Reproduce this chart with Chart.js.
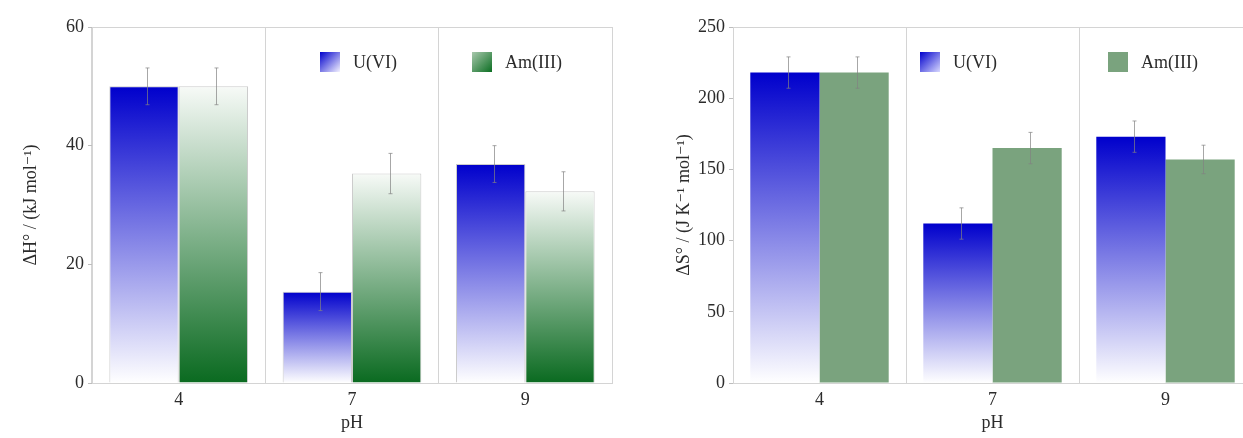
<!DOCTYPE html>
<html>
<head>
<meta charset="utf-8">
<script src="https://cdn.jsdelivr.net/npm/chart.js@4.4.1/dist/chart.umd.min.js"></script>
<style>
html, body { margin: 0; padding: 0; background: #fff; overflow: hidden; }
#wrap { position: relative; width: 1243px; height: 438px; overflow: hidden; }
.caja { position: absolute; top: 0; height: 438px; }
</style>
</head>
<body>
<div id="wrap">
  <div class="caja" style="left:0;width:620px"><canvas id="graficoEntalpia"></canvas></div>
  <div class="caja" style="left:620px;width:640px"><canvas id="graficoEntropia"></canvas></div>
</div>
<script>
// datos
const categorias = ['4', '7', '9'];
const entalpiaU = [50, 15.4, 36.9];
const entalpiaUErr = [3.1, 3.2, 3.1];
const entalpiaAm = [50, 35.3, 32.3];
const entalpiaAmErr = [3.1, 3.4, 3.3];
const entropiaU = [218, 112, 173];
const entropiaUErr = [11, 11, 11];
const entropiaAm = [218, 165, 157];
const entropiaAmErr = [11, 11, 10];
const ticksEntalpia = [0, 20, 40, 60];
const ticksEntropia = [0, 50, 100, 150, 200, 250];

Chart.defaults.font.family = "'Liberation Serif', 'DejaVu Serif', serif";
Chart.defaults.font.size = 18;
Chart.defaults.color = '#2b2b2b';

function gradiente(ctx, arriba, abajo){
    const chart = ctx.chart;
    const y = chart.scales.y;
    if(!y || ctx.raw == null) return arriba;
    const top = y.getPixelForValue(ctx.raw);
    const base = y.getPixelForValue(0);
    if(!isFinite(top) || !isFinite(base) || top === base) return arriba;
    const g = chart.ctx.createLinearGradient(0, top, 0, base);
    g.addColorStop(0, arriba);
    g.addColorStop(1, abajo);
    return g;
}

// marco gris alrededor del area
const pluginMarco = {
    id: 'marco',
    beforeDatasetsDraw(chart){
        const a = chart.chartArea, c = chart.ctx;
        c.save();
        c.strokeStyle = '#d4d4d4';
        c.lineWidth = 1;
        c.strokeRect(a.left + 0.5, a.top + 0.5, a.right - a.left, a.bottom - a.top);
        c.restore();
    }
};

// barras de error
const pluginErrores = {
    id: 'errores',
    afterDatasetsDraw(chart, args, opts){
        const c = chart.ctx, y = chart.scales.y;
        chart.data.datasets.forEach((ds, i) => {
            const meta = chart.getDatasetMeta(i);
            meta.data.forEach((bar, j) => {
                const v = ds.data[j], e = ds.errores[j];
                const x = Math.round(bar.x + 3) + 0.5;
                const y1 = y.getPixelForValue(v + e), y2 = y.getPixelForValue(v - e);
                c.save();
                c.strokeStyle = 'rgba(130,130,130,0.7)';
                c.lineWidth = 1;
                c.beginPath();
                c.moveTo(x, y1); c.lineTo(x, y2);
                c.moveTo(x - 2, y1); c.lineTo(x + 2, y1);
                c.moveTo(x - 2, y2); c.lineTo(x + 2, y2);
                c.stroke();
                c.restore();
            });
        });
    }
};

// leyenda dentro del area
const pluginLeyenda = {
    id: 'leyenda',
    afterDraw(chart, args, opts){
        const c = chart.ctx, a = chart.chartArea;
        chart.data.datasets.forEach((ds, i) => {
            const x = a.left + opts.x[i], y = opts.y;
            const s = 20;
            const g = c.createLinearGradient(x, y - s / 2, x + s, y + s / 2);
            g.addColorStop(0, ds.colores[0]);
            g.addColorStop(1, ds.colores[1]);
            c.save();
            c.fillStyle = g;
            c.fillRect(x, y - s / 2, s, s);
            c.fillStyle = '#2b2b2b';
            c.font = "18px 'Liberation Serif', serif";
            c.textBaseline = 'middle';
            c.fillText(ds.label, x + s + 13, y + 1);
            c.restore();
        });
    }
};

function opcionesEjes(max, paso, titulo, anchoY){
    return {
        x: {
            type: 'category',
            grid: { offset: true, color: '#d4d4d4', drawTicks: false },
            border: { color: '#bdbdbd' },
            ticks: { padding: 6 },
            title: { display: true, text: 'pH', padding: { top: 0, bottom: 0 } },
            afterFit(scale){ scale.height = 51; }
        },
        y: {
            min: 0, max: max,
            grid: { drawOnChartArea: false, color: '#bdbdbd', tickLength: 4 },
            border: { color: '#bdbdbd' },
            ticks: { stepSize: paso, padding: 4 },
            title: { display: true, text: titulo, padding: { top: 0, bottom: 0 } },
            afterFit(scale){ scale.width = anchoY; }
        }
    };
}

window.chartEntalpia = new Chart(document.getElementById('graficoEntalpia'), {
    type: 'bar',
    data: {
        labels: categorias,
        datasets: [{
            label: 'U(VI)',
            data: entalpiaU,
            errores: entalpiaUErr,
            colores: ['#0000cc', '#f4f2ff'],
            backgroundColor: ctx => gradiente(ctx, '#0000cc', '#ffffff'),
            borderColor: 'rgba(170,170,170,0.6)',
            borderWidth: 1,
            categoryPercentage: 0.8,
            barPercentage: 1.0
        },
        {
            label: 'Am(III)',
            data: entalpiaAm,
            errores: entalpiaAmErr,
            colores: ['#a8c8ac', '#0b6e22'],
            backgroundColor: ctx => gradiente(ctx, '#f7faf7', '#0a6a20'),
            borderColor: 'rgba(170,170,170,0.6)',
            borderWidth: 1,
            categoryPercentage: 0.8,
            barPercentage: 1.0
        }]
    },
    options: {
        responsive: true,
        maintainAspectRatio: false,
        animation: false,
        layout: { padding: { left: 20, top: 27, right: 8, bottom: 4 } },
        plugins: {
            legend: { display: false },
            tooltip: { enabled: false },
            leyenda: { x: [228, 380], y: 62 }
        },
        scales: opcionesEjes(60, 20, 'ΔH° / (kJ mol⁻¹)', 72)
    },
    plugins: [pluginMarco, pluginErrores, pluginLeyenda]
});

window.chartEntropia = new Chart(document.getElementById('graficoEntropia'), {
    type: 'bar',
    data: {
        labels: categorias,
        datasets: [{
            label: 'U(VI)',
            data: entropiaU,
            errores: entropiaUErr,
            colores: ['#0000cc', '#d8d8ff'],
            backgroundColor: ctx => gradiente(ctx, '#0000cc', '#ffffff'),
            borderWidth: 0,
            categoryPercentage: 0.8,
            barPercentage: 1.0
        },
        {
            label: 'Am(III)',
            data: entropiaAm,
            errores: entropiaAmErr,
            colores: ['#7aa37e', '#7aa37e'],
            backgroundColor: '#7aa37e',
            borderWidth: 0,
            categoryPercentage: 0.8,
            barPercentage: 1.0
        }]
    },
    options: {
        responsive: true,
        maintainAspectRatio: false,
        animation: false,
        layout: { padding: { left: 53, top: 27, right: 8, bottom: 4 } },
        plugins: {
            legend: { display: false },
            tooltip: { enabled: false },
            leyenda: { x: [187, 375], y: 62 }
        },
        scales: opcionesEjes(250, 50, 'ΔS° / (J K⁻¹ mol⁻¹)', 60)
    },
    plugins: [pluginMarco, pluginErrores, pluginLeyenda]
});
</script>
</body>
</html>
